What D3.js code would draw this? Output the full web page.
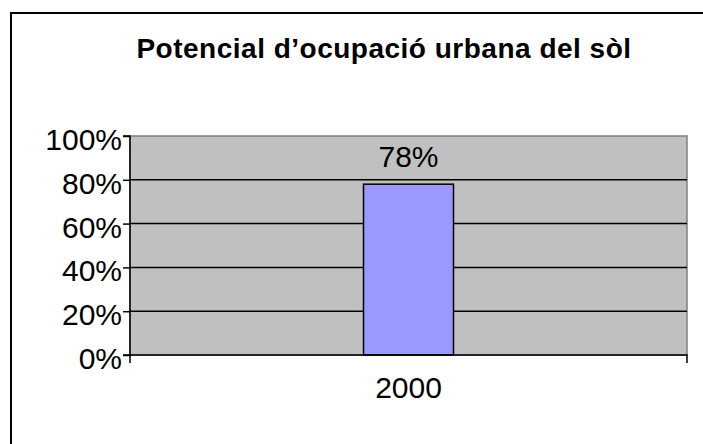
<!DOCTYPE html>
<html><head><meta charset="utf-8">
<script src="https://cdn.jsdelivr.net/npm/d3@7/dist/d3.min.js"></script>
<style>html,body{margin:0;padding:0;background:#fff;}svg{display:block;}</style>
</head><body>
<script>
const title = "Potencial d’ocupació urbana del sòl";
const categories = ["2000"];
const values = [0.78];
const yTicks = [0, 0.2, 0.4, 0.6, 0.8, 1.0];

const W = 703, H = 444;
const svg = d3.select("body").append("svg").attr("width", W).attr("height", H);
const font = "'Liberation Sans', Arial, Helvetica, sans-serif";

// outer chart border (extends past window edges)
svg.append("rect").attr("x", 11).attr("y", 13).attr("width", 720).attr("height", 460)
  .attr("fill", "#fff").attr("stroke", "#000").attr("stroke-width", 2);

const pL = 130, pR = 687, pT = 136, pB = 355;
const x = d3.scaleBand().domain(categories).range([pL, pR]).paddingInner(0).paddingOuter(2.594);
const y = d3.scaleLinear().domain([0, 1]).range([pB, pT]);

// plot area
svg.append("rect").attr("x", pL).attr("y", pT).attr("width", pR - pL).attr("height", pB - pT)
  .attr("fill", "#c0c0c0").attr("stroke", "#808080").attr("stroke-width", 1.5);

// gridlines
svg.append("g").selectAll("line").data(yTicks.filter(d => d > 0 && d < 1)).join("line")
  .attr("x1", pL).attr("x2", pR).attr("y1", d => y(d)).attr("y2", d => y(d))
  .attr("stroke", "#000").attr("stroke-width", 1.5);

// bars
svg.append("g").selectAll("rect").data(values).join("rect")
  .attr("x", (d, i) => x(categories[i])).attr("width", x.bandwidth())
  .attr("y", d => y(d)).attr("height", d => y(0) - y(d))
  .attr("fill", "#9999ff").attr("stroke", "#000").attr("stroke-width", 1.5);

// value labels
svg.append("g").selectAll("text").data(values).join("text")
  .attr("x", (d, i) => x(categories[i]) + x.bandwidth() / 2)
  .attr("y", d => y(d) - 17)
  .attr("text-anchor", "middle").attr("font-family", font).attr("font-size", 30)
  .text(d => Math.round(d * 100) + "%");

// y axis
const yAxis = d3.axisLeft(y).tickValues(yTicks).tickSize(7).tickPadding(1).tickFormat(d3.format(".0%"));
const gy = svg.append("g").attr("transform", `translate(${pL},0)`).call(yAxis);
gy.select(".domain").attr("stroke", "#000").attr("stroke-width", 1.5).attr("d", `M-7,${pT}H0V${pB}H-7`);
gy.selectAll(".tick line").attr("stroke", "#000").attr("stroke-width", 1.5);
gy.selectAll(".tick text").attr("font-family", font).attr("font-size", 30).attr("fill", "#000")
  .attr("dy", "0.45em");

// x axis
const xAxis = d3.axisBottom(x).tickSize(0).tickPadding(22);
const gx = svg.append("g").attr("transform", `translate(0,${pB})`).call(xAxis);
gx.select(".domain").attr("stroke", "#000").attr("stroke-width", 1.5)
  .attr("d", `M${pL},8V0H${pR}V8`);
gx.selectAll(".tick text").attr("font-family", font).attr("font-size", 30).attr("fill", "#000");

// title
svg.append("text").attr("x", 384).attr("y", 58).attr("text-anchor", "middle")
  .attr("font-family", font).attr("font-weight", "bold").attr("font-size", 28)
  .attr("letter-spacing", 0.5)
  .text(title);
</script>
</body></html>
